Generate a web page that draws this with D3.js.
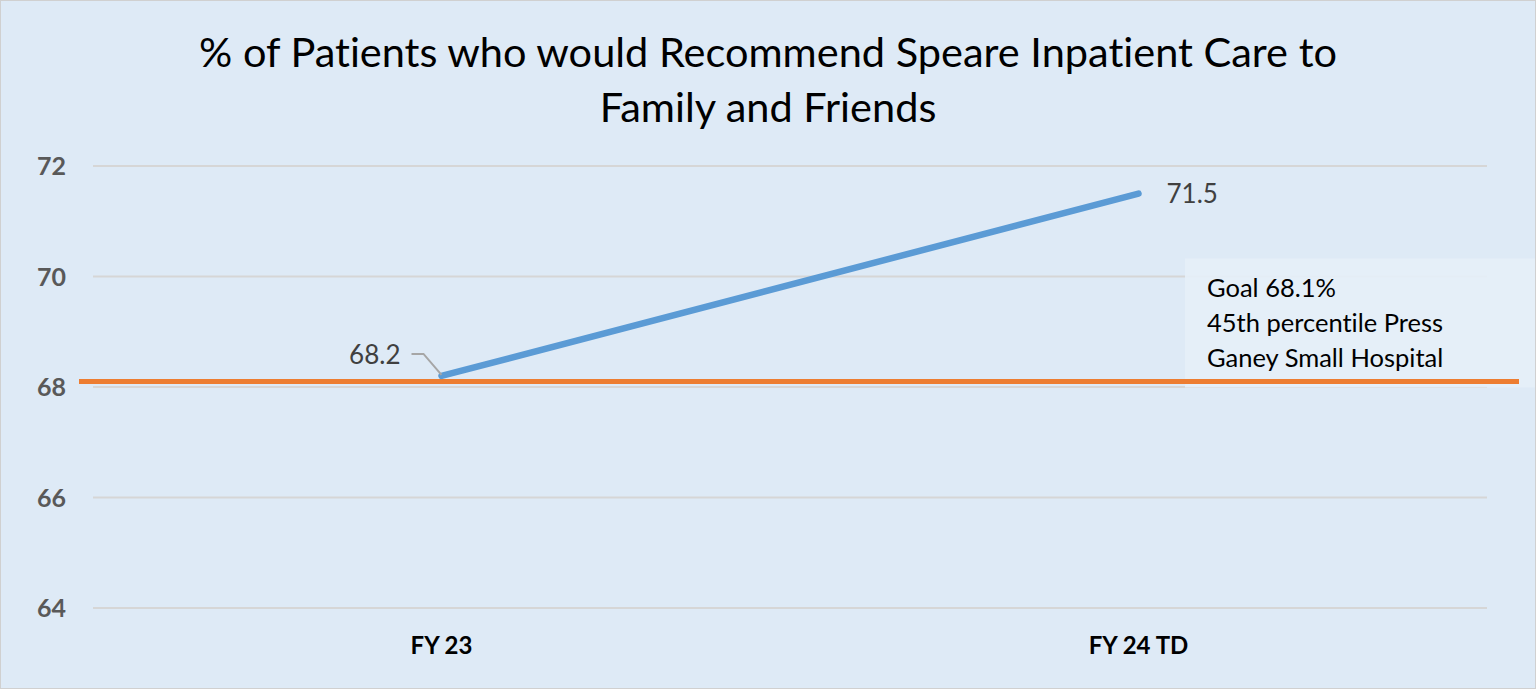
<!DOCTYPE html>
<html>
<head>
<meta charset="utf-8">
<script src="https://cdn.jsdelivr.net/npm/d3@7"></script>
<style>
  html, body { margin: 0; padding: 0; background: #fff; }
  svg { display: block; }
  text { font-family: Lato, "Open Sans", sans-serif; font-variant-ligatures: none; }
</style>
</head>
<body>
<svg id="chart" width="1536" height="689"></svg>
<script>
// chart values
const categories = ["FY 23", "FY 24 TD"];
const scores = [68.2, 71.5];
const goal = 68.1;
const yTicks = [64, 66, 68, 70, 72];
const titleLines = ["% of Patients who would Recommend Speare Inpatient Care to", "Family and Friends"];
const goalNote = ["Goal 68.1%", "45th percentile Press", "Ganey Small Hospital"];

const W = 1536, H = 689;
const M = { top: 166, right: 49, bottom: 81, left: 93 };

const svg = d3.select("#chart");

// background panel
svg.append("rect")
  .attr("x", 0.5).attr("y", 0.5)
  .attr("width", W - 1).attr("height", H - 1)
  .attr("fill", "#deeaf6").attr("stroke", "#d0d0d0");

const x = d3.scaleBand().domain(categories).range([M.left, W - M.right]);
const y = d3.scaleLinear().domain([64, 72]).range([H - M.bottom, M.top]);

// title
svg.append("text")
  .attr("text-anchor", "middle")
  .attr("font-size", 41.5).attr("fill", "#000")
  .selectAll("tspan").data(titleLines).join("tspan")
  .attr("x", 768).attr("y", (d, i) => 67 + i * 55)
  .text(d => d);

// gridlines
svg.append("g").selectAll("line").data(yTicks).join("line")
  .attr("x1", M.left).attr("x2", W - M.right)
  .attr("y1", d => y(d)).attr("y2", d => y(d))
  .attr("stroke", "#d6d6d6").attr("stroke-width", 2);

// y axis labels
const yAxis = d3.axisLeft(y).tickValues(yTicks).tickSize(0).tickPadding(0);
const gy = svg.append("g").attr("transform", `translate(66,0)`).call(yAxis);
gy.select(".domain").remove();
gy.selectAll("text")
  .attr("font-family", "Lato, sans-serif")
  .attr("font-size", 25).attr("font-weight", "bold")
  .attr("fill", "#595959").attr("dy", "0.34em");

// x axis labels
const xAxis = d3.axisBottom(x).tickSize(0).tickPadding(0);
const gx = svg.append("g").attr("transform", `translate(0,654)`).call(xAxis);
gx.select(".domain").remove();
gx.selectAll("text")
  .attr("font-family", "Lato, sans-serif")
  .attr("font-size", 24).attr("font-weight", "bold")
  .attr("fill", "#000").attr("dy", 0);

// goal note box (sits behind the goal line)
const boxX = 1185, boxY = y(70) - 18;
svg.append("rect")
  .attr("x", boxX).attr("y", boxY)
  .attr("width", W - boxX - 1).attr("height", y(goal) + 6 - boxY)
  .attr("fill", "#e6eff8").attr("opacity", 0.9);

svg.append("g").selectAll("text").data(goalNote).join("text")
  .attr("x", 1207).attr("y", (d, i) => 297 + i * 35)
  .attr("font-size", 25.5).attr("fill", "#000")
  .text(d => d);

// goal line
svg.append("line")
  .attr("x1", 79).attr("x2", 1519)
  .attr("y1", y(goal)).attr("y2", y(goal))
  .attr("stroke", "#ed7d31").attr("stroke-width", 5);

// score line
const cx = d => x(d) + x.bandwidth() / 2;
const pts = categories.map((c, i) => [cx(c), y(scores[i])]);
svg.append("path")
  .attr("d", d3.line()(pts))
  .attr("fill", "none").attr("stroke", "#5b9bd5")
  .attr("stroke-width", 6.5).attr("stroke-linecap", "round");

// data labels
const p0 = pts[0], p1 = pts[1];
svg.append("polyline")
  .attr("points", [[p0[0] - 30, p0[1] - 22], [p0[0] - 18, p0[1] - 22], [p0[0], p0[1] - 1]].join(" "))
  .attr("fill", "none").attr("stroke", "#a6a6a6").attr("stroke-width", 2);
svg.append("text")
  .attr("x", p0[0] - 41).attr("y", p0[1] - 12)
  .attr("text-anchor", "end").attr("font-size", 26).attr("fill", "#404040")
  .text(scores[0].toFixed(1));
svg.append("text")
  .attr("x", p1[0] + 28).attr("y", p1[1] + 9)
  .attr("font-size", 26).attr("fill", "#404040")
  .text(scores[1].toFixed(1));
</script>
</body>
</html>
